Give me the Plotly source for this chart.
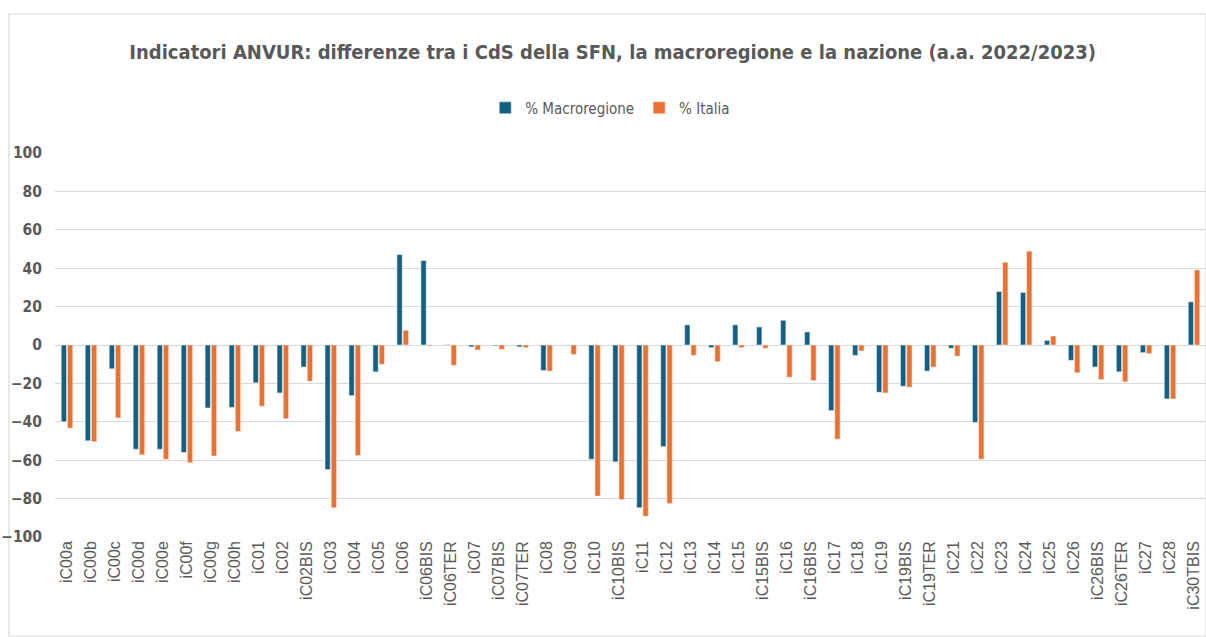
import plotly.graph_objects as go

categories = ["iC00a", "iC00b", "iC00c", "iC00d", "iC00e", "iC00f", "iC00g", "iC00h",
              "iC01", "iC02", "iC02BIS", "iC03", "iC04", "iC05", "iC06", "iC06BIS",
              "iC06TER", "iC07", "iC07BIS", "iC07TER", "iC08", "iC09", "iC10", "iC10BIS",
              "iC11", "iC12", "iC13", "iC14", "iC15", "iC15BIS", "iC16", "iC16BIS",
              "iC17", "iC18", "iC19", "iC19BIS", "iC19TER", "iC21", "iC22", "iC23",
              "iC24", "iC25", "iC26", "iC26BIS", "iC26TER", "iC27", "iC28", "iC30TBIS"]

macroregione = [-40.0, -49.9, -12.4, -54.3, -54.3, -56.0, -32.8, -32.5,
                -19.7, -25.0, -11.5, -64.9, -26.4, -14.0, 47.1, 44.0,
                0.2, -1.0, -0.5, -1.0, -13.3, -0.3, -59.5, -60.9,
                -84.8, -52.9, 10.5, -1.4, 10.5, 9.4, 12.9, 6.8,
                -34.2, -5.4, -24.6, -21.5, -13.6, -1.7, -40.3, 27.9,
                27.4, 2.4, -8.0, -11.5, -14.0, -4.0, -28.1, 22.5]

italia = [-43.3, -50.4, -38.0, -57.2, -59.5, -61.3, -57.8, -45.0,
          -31.9, -38.4, -18.8, -84.8, -57.6, -10.1, 7.7, -0.5,
          -10.6, -2.6, -2.3, -1.4, -13.6, -4.9, -78.7, -80.5,
          -89.2, -82.5, -5.4, -8.7, -1.4, -1.7, -16.8, -18.5,
          -49.0, -3.1, -25.0, -22.0, -11.5, -5.8, -59.5, 43.1,
          48.9, 4.7, -14.5, -18.0, -19.2, -4.5, -28.1, 39.1]

y_ticks = [-100, -80, -60, -40, -20, 0, 20, 40, 60, 80, 100]

narrow = "Liberation Sans Narrow, DejaVu Sans Condensed, Roboto Condensed, Arial Narrow, sans-serif"
gray = "#595959"

fig = go.Figure()
fig.add_trace(go.Bar(name="% Macroregione", x=categories, y=macroregione,
                     marker=dict(color="#156082", line=dict(color="#e8eef2", width=0.6))))
fig.add_trace(go.Bar(name="% Italia", x=categories, y=italia,
                     marker=dict(color="#E97132", line=dict(color="#fbe5d8", width=0.6))))

W, H = 1206, 637
ml, mr, mt, mb = 55, 0, 153, 100
pw, ph = W - ml - mr, H - mt - mb

def px(x):
    return (x - ml) / pw

def py(y):
    return (H - mb - y) / ph

fig.update_layout(
    width=W, height=H,
    margin=dict(l=ml, r=mr, t=mt, b=mb),
    paper_bgcolor="white", plot_bgcolor="white",
    barmode="group", bargap=0.48, bargroupgap=0.15,
    title=dict(text="<b>Indicatori ANVUR: differenze tra i CdS della SFN, la macroregione e la nazione (a.a. 2022/2023)</b>",
               x=0.508, xref="container", xanchor="center", y=1 - 52 / H, yanchor="middle",
               font=dict(family=narrow, size=20, color=gray)),
    legend=dict(orientation="h", x=0.506, xref="container", xanchor="center",
                y=1 - 108 / H, yref="container", yanchor="middle",
                font=dict(family=narrow, size=15, color=gray),
                itemwidth=30, traceorder="normal"),
    xaxis=dict(tickangle=-90, tickfont=dict(family="Liberation Sans, Arial, sans-serif", size=16, color=gray),
               showgrid=False, showline=False, ticks=""),
    yaxis=dict(range=[-100, 100], tickvals=y_ticks, showgrid=True, gridcolor="#D9D9D9", gridwidth=1,
               zeroline=True, zerolinecolor="#D9D9D9", zerolinewidth=1,
               tickfont=dict(family=narrow, size=15.5, color=gray, weight="bold"), ticklabelstandoff=12,
               showline=False, ticks=""),
    shapes=[dict(type="rect", xref="paper", yref="paper",
                 x0=px(9), x1=px(1206), y0=py(636), y1=py(14),
                 line=dict(color="#D9D9D9", width=1.2), layer="below")],
)

fig.write_html("out.html", config={"displayModeBar": False},
               post_script="document.body.style.margin='0';document.body.style.overflow='hidden';")
